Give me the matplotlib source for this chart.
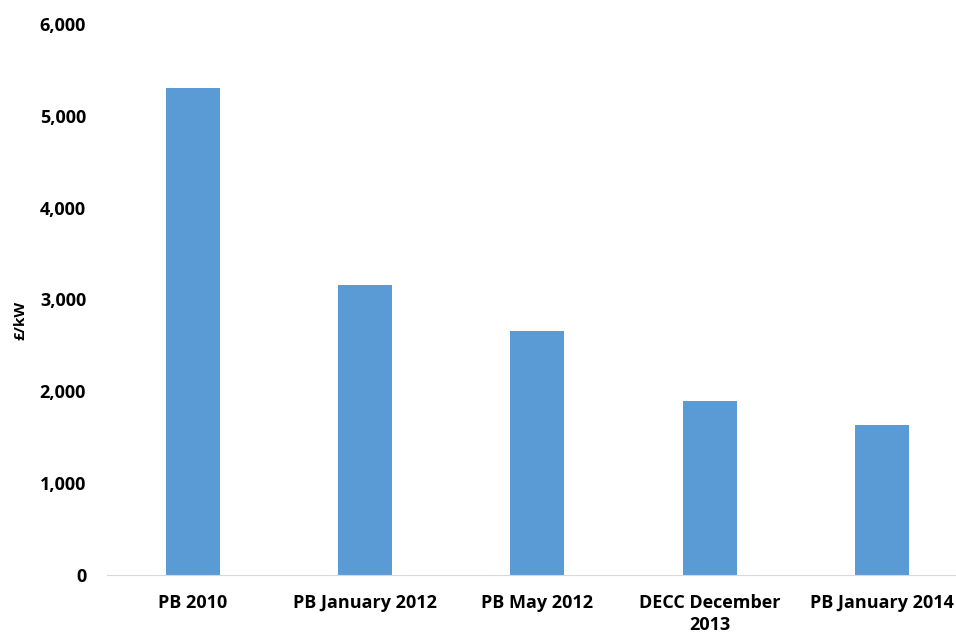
import matplotlib
matplotlib.use("Agg")
import matplotlib.pyplot as plt
from matplotlib.ticker import FuncFormatter

# Capital cost estimates, £/kW
sources = ["PB 2010", "PB January 2012", "PB May 2012", "DECC December\n2013", "PB January 2014"]
cost = [5300, 3160, 2660, 1900, 1635]
y_ticks = [0, 1000, 2000, 3000, 4000, 5000, 6000]

plt.rcParams['font.family'] = ['Open Sans', 'DejaVu Sans']

fig = plt.figure(figsize=(9.56, 6.35), dpi=100)
ax = fig.add_axes([0.1119, 0.0945, 0.9006, 0.8677])

ax.bar(range(len(sources)), cost, width=0.314, color="#5b9bd5")

ax.set_xlim(-0.5, len(sources) - 0.5)
ax.set_ylim(0, 6000)
ax.set_yticks(y_ticks)
ax.yaxis.set_major_formatter(FuncFormatter(lambda v, p: f"{int(v):,}"))
ax.set_xticks(range(len(sources)))
ax.set_xticklabels(sources, fontsize=13, fontweight="bold", linespacing=1.25)
for lab in ax.get_yticklabels():
    lab.set_fontsize(13)
    lab.set_fontweight("bold")

ax.tick_params(axis="y", length=0, pad=15)
ax.tick_params(axis="x", length=0, pad=14)
for s in ["top", "right", "left"]:
    ax.spines[s].set_visible(False)
ax.spines["bottom"].set_color("#d9d9d9")

fig.text(0.021, 0.496, "£/kW", rotation=90, fontsize=11, fontweight="bold",
         ha="center", va="center")

fig.savefig("out.png", dpi=100)
